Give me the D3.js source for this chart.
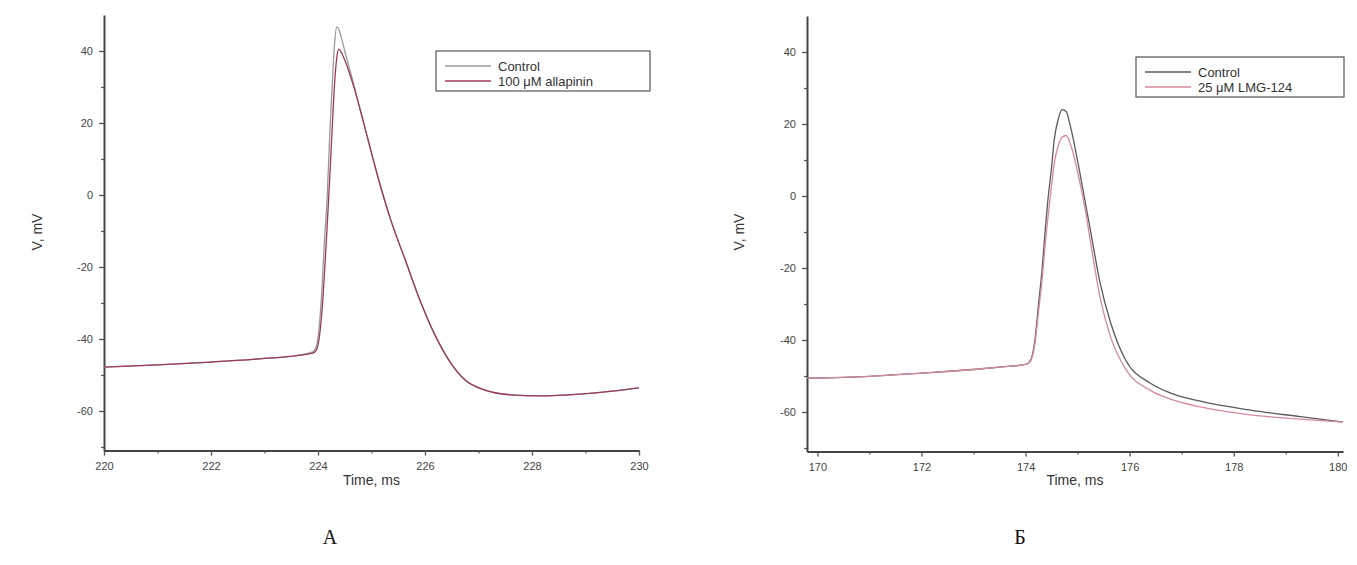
<!DOCTYPE html>
<html>
<head>
<meta charset="utf-8">
<script src="https://cdn.jsdelivr.net/npm/d3@7"></script>
<style>
  html, body { margin: 0; padding: 0; background: #fff; }
  svg { display: block; }
  .tick text { font-family: "Liberation Sans", Arial, sans-serif; font-size: 11px; fill: #444; }
  .axis-title { font-family: "Liberation Sans", Arial, sans-serif; font-size: 14px; fill: #333; }
  .legend text { font-family: "Liberation Sans", Arial, sans-serif; font-size: 13px; fill: #333; }
  .panel-letter { font-family: "Liberation Serif", "Times New Roman", serif; font-size: 20px; fill: #111; }
</style>
</head>
<body>
<script>
// Panel A: action potential, control vs 100 µM allapinin
const timeA = [220, 221, 222, 223, 223.6, 223.9, 223.97, 224.02, 224.07, 224.12, 224.17, 224.22, 224.27,
  224.31, 224.35, 224.39, 224.44, 224.5, 224.69, 224.88, 225.12, 225.35, 225.63, 225.9, 226.19, 226.47,
  226.75, 227.12, 227.6, 228.15, 228.9, 229.5, 230];
const controlA = [-47.8, -47.2, -46.4, -45.4, -44.6, -43.6, -42, -37, -27, -13, -1, 17, 32, 42, 46.7, 46,
  43.5, 40, 29.5, 18.5, 5, -6.5, -18, -29, -39, -46.4, -51.4, -54.2, -55.5, -55.8, -55.3, -54.5, -53.6];
const allapininA = [-47.8, -47.2, -46.4, -45.4, -44.6, -43.9, -43, -40, -33, -22, -9, 5, 20, 31, 38, 40.5,
  39.5, 37.5, 29, 18.5, 5, -6.5, -18, -29, -39, -46.4, -51.4, -54.2, -55.5, -55.8, -55.3, -54.5, -53.6];
const legendA = ["Control", "100 \u03bcM allapinin"];

// Panel B: action potential, control vs 25 µM LMG-124
const timeB = [169.8, 171, 172, 173, 173.6, 174.0, 174.09, 174.18, 174.25, 174.32, 174.38, 174.43, 174.5,
  174.55, 174.63, 174.7, 174.78, 174.86, 175.01, 175.15, 175.24, 175.43, 175.63, 175.92, 176.4, 176.8,
  177.36, 178.32, 179.28, 180.1];
const controlB = [-50.6, -50.1, -49.2, -48.2, -47.4, -46.8, -45.8, -40, -30, -20, -9, -1, 8, 15.5, 21.5,
  24, 23.5, 19.5, 9, -2, -9, -24, -35, -45.5, -52, -54.8, -57, -59.5, -61.3, -62.8];
const lmgB = [-50.6, -50.1, -49.2, -48.2, -47.4, -46.8, -46, -41, -32, -23, -13, -6, 3, 9, 14, 16.3, 16.8,
  14.5, 6, -4, -12, -28, -39, -48, -54, -56.5, -58.6, -60.8, -62, -62.8];
const legendB = ["Control", "25 \u03bcM LMG-124"];

// Axis ticks
const yTicks = [-60, -40, -20, 0, 20, 40];
const yMinor = [-70, -50, -30, -10, 10, 30];
const xTicksA = [220, 222, 224, 226, 228, 230];
const xMinorA = [221, 223, 225, 227, 229];
const xTicksB = [170, 172, 174, 176, 178, 180];
const xMinorB = [171, 173, 175, 177, 179];

const W = 1357, H = 565;
const svg = d3.select("body").append("svg").attr("width", W).attr("height", H);

function drawPanel(opt) {
  const x = d3.scaleLinear().domain(opt.xDomain).range(opt.xRange);
  const y = d3.scaleLinear().domain([-71, 50]).range(opt.yRange);
  const g = svg.append("g");
  const fmt = d => String(d);

  // minor ticks
  g.append("g").attr("transform", `translate(0,${opt.yRange[0]})`)
    .call(d3.axisBottom(x).tickValues(opt.xMinor).tickSize(3).tickFormat(""))
    .call(a => a.select(".domain").remove())
    .selectAll("line").attr("stroke", "#555").attr("stroke-width", 1.2);
  g.append("g").attr("transform", `translate(${opt.xRange[0]},0)`)
    .call(d3.axisLeft(y).tickValues(yMinor).tickSize(3).tickFormat(""))
    .call(a => a.select(".domain").remove())
    .selectAll("line").attr("stroke", "#555").attr("stroke-width", 1.2);

  // major axes
  const xa = g.append("g").attr("transform", `translate(0,${opt.yRange[0]})`)
    .call(d3.axisBottom(x).tickValues(opt.xTicks).tickSize(5).tickSizeOuter(0).tickPadding(7).tickFormat(fmt));
  const ya = g.append("g").attr("transform", `translate(${opt.xRange[0]},0)`)
    .call(d3.axisLeft(y).tickValues(yTicks).tickSize(5).tickSizeOuter(0).tickPadding(6).tickFormat(fmt));
  [xa, ya].forEach(a => {
    a.select(".domain").attr("stroke", "#444").attr("stroke-width", 2);
    a.selectAll(".tick line").attr("stroke", "#555").attr("stroke-width", 1.3);
  });

  // traces
  const line = d3.line().x(d => x(d[0])).y(d => y(d[1])).curve(d3.curveMonotoneX);
  opt.series.forEach(s => {
    g.append("path")
      .datum(opt.time.map((t, i) => [t, s.values[i]]))
      .attr("fill", "none").attr("stroke", s.color).attr("stroke-width", 1.3)
      .attr("d", line);
  });

  // axis titles, centred on their axes
  const xMid = (opt.xRange[0] + opt.xRange[1]) / 2;
  g.append("text").attr("class", "axis-title")
    .attr("x", xMid).attr("y", 485).attr("text-anchor", "middle").text(opt.xTitle);
  g.append("text").attr("class", "axis-title")
    .attr("transform", `translate(${opt.yTitleX},232) rotate(-90)`)
    .attr("text-anchor", "middle").text("V, mV");

  // legend
  const lg = g.append("g").attr("class", "legend").attr("transform", `translate(${opt.legend.x},${opt.legend.y})`);
  lg.append("rect").attr("width", opt.legend.w).attr("height", 40)
    .attr("fill", "#fff").attr("stroke", "#555").attr("stroke-width", 1.2);
  opt.series.forEach((s, i) => {
    const ly = 15 + i * 15;
    lg.append("line").attr("x1", 9).attr("x2", 55).attr("y1", ly).attr("y2", ly)
      .attr("stroke", s.color).attr("stroke-width", 1.3);
    lg.append("text").attr("x", 62).attr("y", ly + 4.5).text(s.name);
  });

  // panel letter
  svg.append("text").attr("class", "panel-letter")
    .attr("x", opt.letterX).attr("y", 544).attr("text-anchor", "middle").text(opt.letter);
}

drawPanel({
  xDomain: [220, 230], xRange: [104, 639], yRange: [450.6, 15],
  xTicks: xTicksA, xMinor: xMinorA, time: timeA,
  series: [
    { name: legendA[0], values: controlA, color: "#9a9a9a" },
    { name: legendA[1], values: allapininA, color: "#9b3a55" }
  ],
  xTitle: "Time, ms", yTitleX: 42,
  legend: { x: 436, y: 51, w: 214 },
  letter: "A", letterX: 330
});

drawPanel({
  xDomain: [169.8, 180.1], xRange: [807, 1343], yRange: [451.6, 16],
  xTicks: xTicksB, xMinor: xMinorB, time: timeB,
  series: [
    { name: legendB[0], values: controlB, color: "#5a5a5a" },
    { name: legendB[1], values: lmgB, color: "#d48a98" }
  ],
  xTitle: "Time, ms", yTitleX: 744,
  legend: { x: 1136, y: 57, w: 208 },
  letter: "\u0411", letterX: 1020
});
</script>
</body>
</html>
